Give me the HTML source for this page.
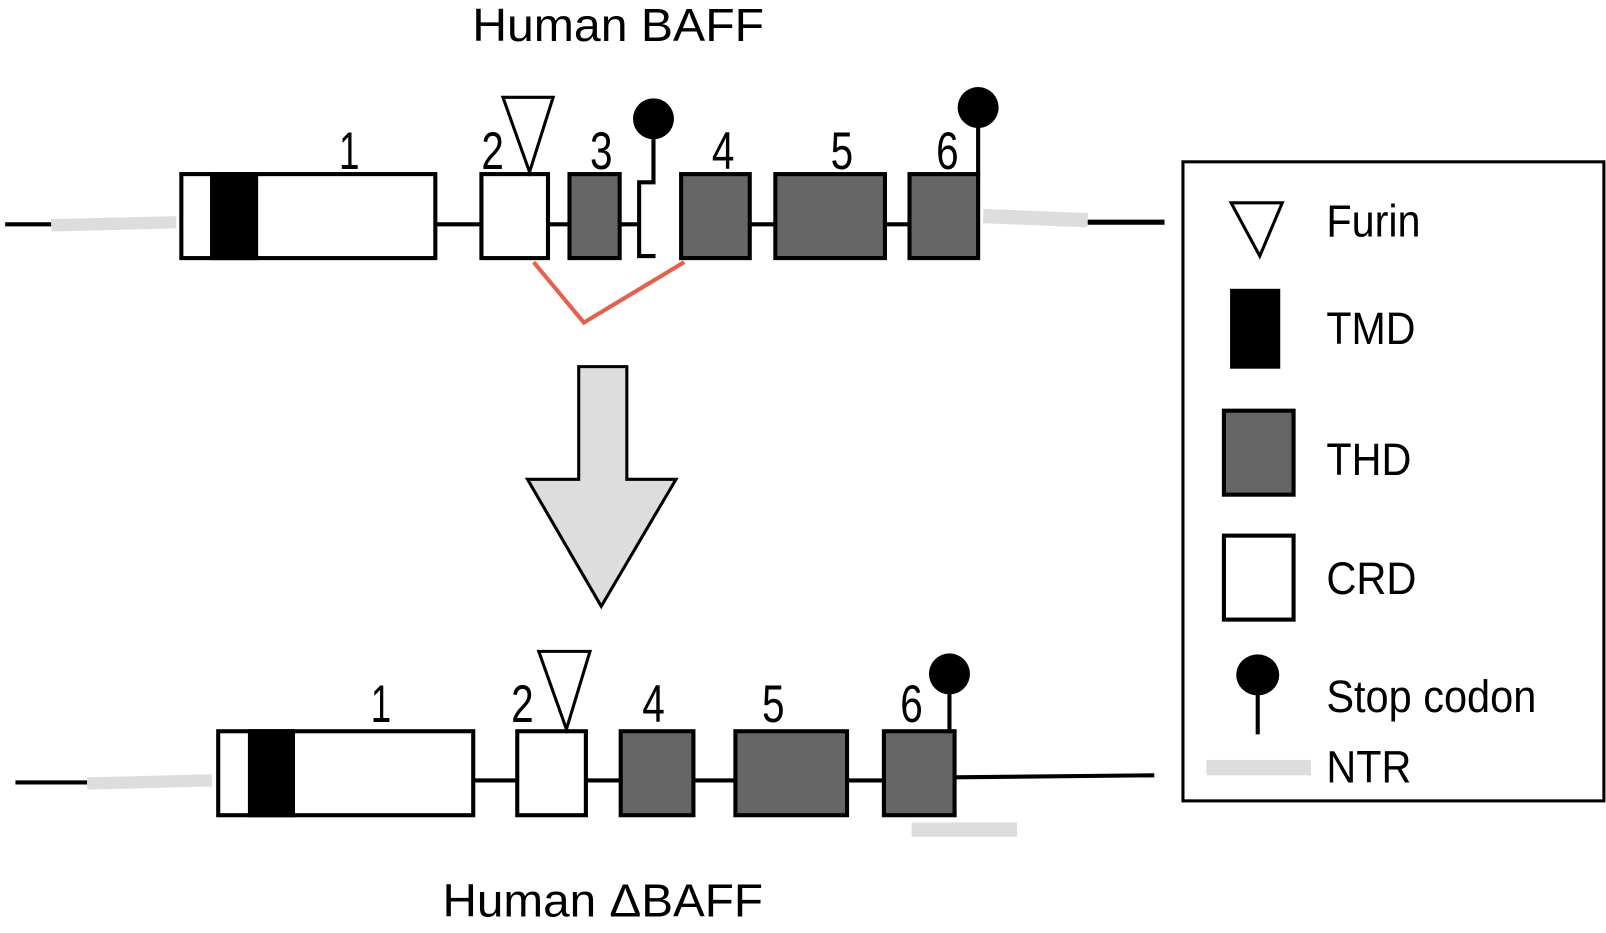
<!DOCTYPE html>
<html><head><meta charset="utf-8"><style>html,body{margin:0;padding:0;background:#fff}svg{display:block}</style></head>
<body>
<svg width="1606" height="933" viewBox="0 0 1568 911" xmlns="http://www.w3.org/2000/svg" font-family="Liberation Sans, sans-serif">
<rect width="1568" height="911" fill="#fff"/>
<text x="461" y="40" font-size="45" textLength="285" lengthAdjust="spacingAndGlyphs">Human BAFF</text>
<!-- top row -->
<line x1="5" y1="219" x2="50" y2="219" stroke="#000" stroke-width="4"/>
<line x1="50" y1="220" x2="172" y2="217" stroke="#ddd" stroke-width="12"/>
<line x1="425" y1="219" x2="470" y2="219" stroke="#000" stroke-width="4"/>
<line x1="535" y1="219" x2="556" y2="219" stroke="#000" stroke-width="4"/>
<line x1="605" y1="219" x2="622" y2="219" stroke="#000" stroke-width="4"/>
<line x1="732" y1="219" x2="757" y2="219" stroke="#000" stroke-width="4"/>
<line x1="864" y1="219" x2="888" y2="219" stroke="#000" stroke-width="4"/>
<line x1="960" y1="211" x2="1062" y2="215" stroke="#ddd" stroke-width="14"/>
<line x1="1062" y1="217" x2="1137" y2="217" stroke="#000" stroke-width="5"/>
<rect x="177" y="170" width="248" height="82" fill="#fff" stroke="#000" stroke-width="4"/>
<rect x="205" y="168" width="47" height="86" fill="#000"/>
<rect x="470" y="170" width="65" height="82" fill="#fff" stroke="#000" stroke-width="4"/>
<rect x="556" y="170" width="49" height="82" fill="#666" stroke="#000" stroke-width="4"/>
<rect x="665" y="170" width="67" height="82" fill="#666" stroke="#000" stroke-width="4"/>
<rect x="757" y="170" width="107" height="82" fill="#666" stroke="#000" stroke-width="4"/>
<rect x="888" y="170" width="67" height="82" fill="#666" stroke="#000" stroke-width="4"/>
<polyline points="638,120 638,178 624,178 624,250 640,250" fill="none" stroke="#000" stroke-width="4"/>
<ellipse cx="638" cy="116" rx="20" ry="20" fill="#000"/>
<line x1="955" y1="106" x2="955" y2="172" stroke="#000" stroke-width="4"/>
<ellipse cx="955" cy="105" rx="20" ry="20" fill="#000"/>
<polygon points="491,95 540,95 517,168" fill="#fff" stroke="#000" stroke-width="3"/>
<g font-size="52"><text x="331" y="165" textLength="20" lengthAdjust="spacingAndGlyphs">1</text><text x="470" y="165" textLength="22" lengthAdjust="spacingAndGlyphs">2</text><text x="576" y="165" textLength="22" lengthAdjust="spacingAndGlyphs">3</text><text x="695" y="165" textLength="22" lengthAdjust="spacingAndGlyphs">4</text><text x="811" y="165" textLength="22" lengthAdjust="spacingAndGlyphs">5</text><text x="914" y="165" textLength="22" lengthAdjust="spacingAndGlyphs">6</text></g>
<polyline points="521,256 570,315 668,256" fill="none" stroke="#e8604c" stroke-width="4"/>
<!-- arrow -->
<polygon points="565,358 612,358 612,468 660,468 587,592 515,468 565,468" fill="#ddd" stroke="#000" stroke-width="3"/>
<!-- bottom row -->
<line x1="15" y1="764" x2="85" y2="764" stroke="#000" stroke-width="4"/>
<line x1="85" y1="765" x2="207" y2="762" stroke="#ddd" stroke-width="12"/>
<line x1="462" y1="762" x2="505" y2="762" stroke="#000" stroke-width="4"/>
<line x1="572" y1="762" x2="606" y2="762" stroke="#000" stroke-width="4"/>
<line x1="677" y1="762" x2="718" y2="762" stroke="#000" stroke-width="4"/>
<line x1="827" y1="762" x2="863" y2="762" stroke="#000" stroke-width="4"/>
<line x1="932" y1="759" x2="1127" y2="757" stroke="#000" stroke-width="4"/>
<rect x="890" y="803" width="103" height="14" fill="#ddd"/>
<rect x="213" y="714" width="249" height="82" fill="#fff" stroke="#000" stroke-width="4"/>
<rect x="242" y="712" width="46" height="86" fill="#000"/>
<rect x="505" y="714" width="67" height="82" fill="#fff" stroke="#000" stroke-width="4"/>
<rect x="606" y="714" width="71" height="82" fill="#666" stroke="#000" stroke-width="4"/>
<rect x="718" y="714" width="109" height="82" fill="#666" stroke="#000" stroke-width="4"/>
<rect x="863" y="714" width="69" height="82" fill="#666" stroke="#000" stroke-width="4"/>
<line x1="927" y1="660" x2="927" y2="716" stroke="#000" stroke-width="4"/>
<ellipse cx="927" cy="658" rx="20" ry="20" fill="#000"/>
<polygon points="526,636 576,636 553,712" fill="#fff" stroke="#000" stroke-width="3"/>
<g font-size="52"><text x="362" y="705" textLength="20" lengthAdjust="spacingAndGlyphs">1</text><text x="499" y="705" textLength="22" lengthAdjust="spacingAndGlyphs">2</text><text x="627" y="705" textLength="22" lengthAdjust="spacingAndGlyphs">4</text><text x="744" y="705" textLength="22" lengthAdjust="spacingAndGlyphs">5</text><text x="879" y="705" textLength="22" lengthAdjust="spacingAndGlyphs">6</text></g>
<text x="432" y="895" font-size="45" textLength="313" lengthAdjust="spacingAndGlyphs">Human ΔBAFF</text>
<!-- legend -->
<rect x="1155" y="158" width="411" height="624" fill="#fff" stroke="#000" stroke-width="3"/>
<polygon points="1202,198 1252,198 1230,250" fill="#fff" stroke="#000" stroke-width="3"/>
<rect x="1201" y="282" width="49" height="78" fill="#000"/>
<rect x="1195" y="401" width="68" height="82" fill="#666" stroke="#000" stroke-width="4"/>
<rect x="1195" y="523" width="68" height="82" fill="#fff" stroke="#000" stroke-width="4"/>
<line x1="1228" y1="660" x2="1228" y2="717" stroke="#000" stroke-width="4"/>
<ellipse cx="1228" cy="659" rx="21" ry="20" fill="#000"/>
<rect x="1178" y="742" width="102" height="15" fill="#ddd"/>
<g font-size="44"><text x="1295" y="231" textLength="92" lengthAdjust="spacingAndGlyphs">Furin</text><text x="1295" y="336" textLength="87" lengthAdjust="spacingAndGlyphs">TMD</text><text x="1295" y="464" textLength="83" lengthAdjust="spacingAndGlyphs">THD</text><text x="1295" y="580" textLength="88" lengthAdjust="spacingAndGlyphs">CRD</text><text x="1295" y="695" textLength="205" lengthAdjust="spacingAndGlyphs">Stop codon</text><text x="1295" y="764" textLength="83" lengthAdjust="spacingAndGlyphs">NTR</text></g>
</svg>
</body></html>
